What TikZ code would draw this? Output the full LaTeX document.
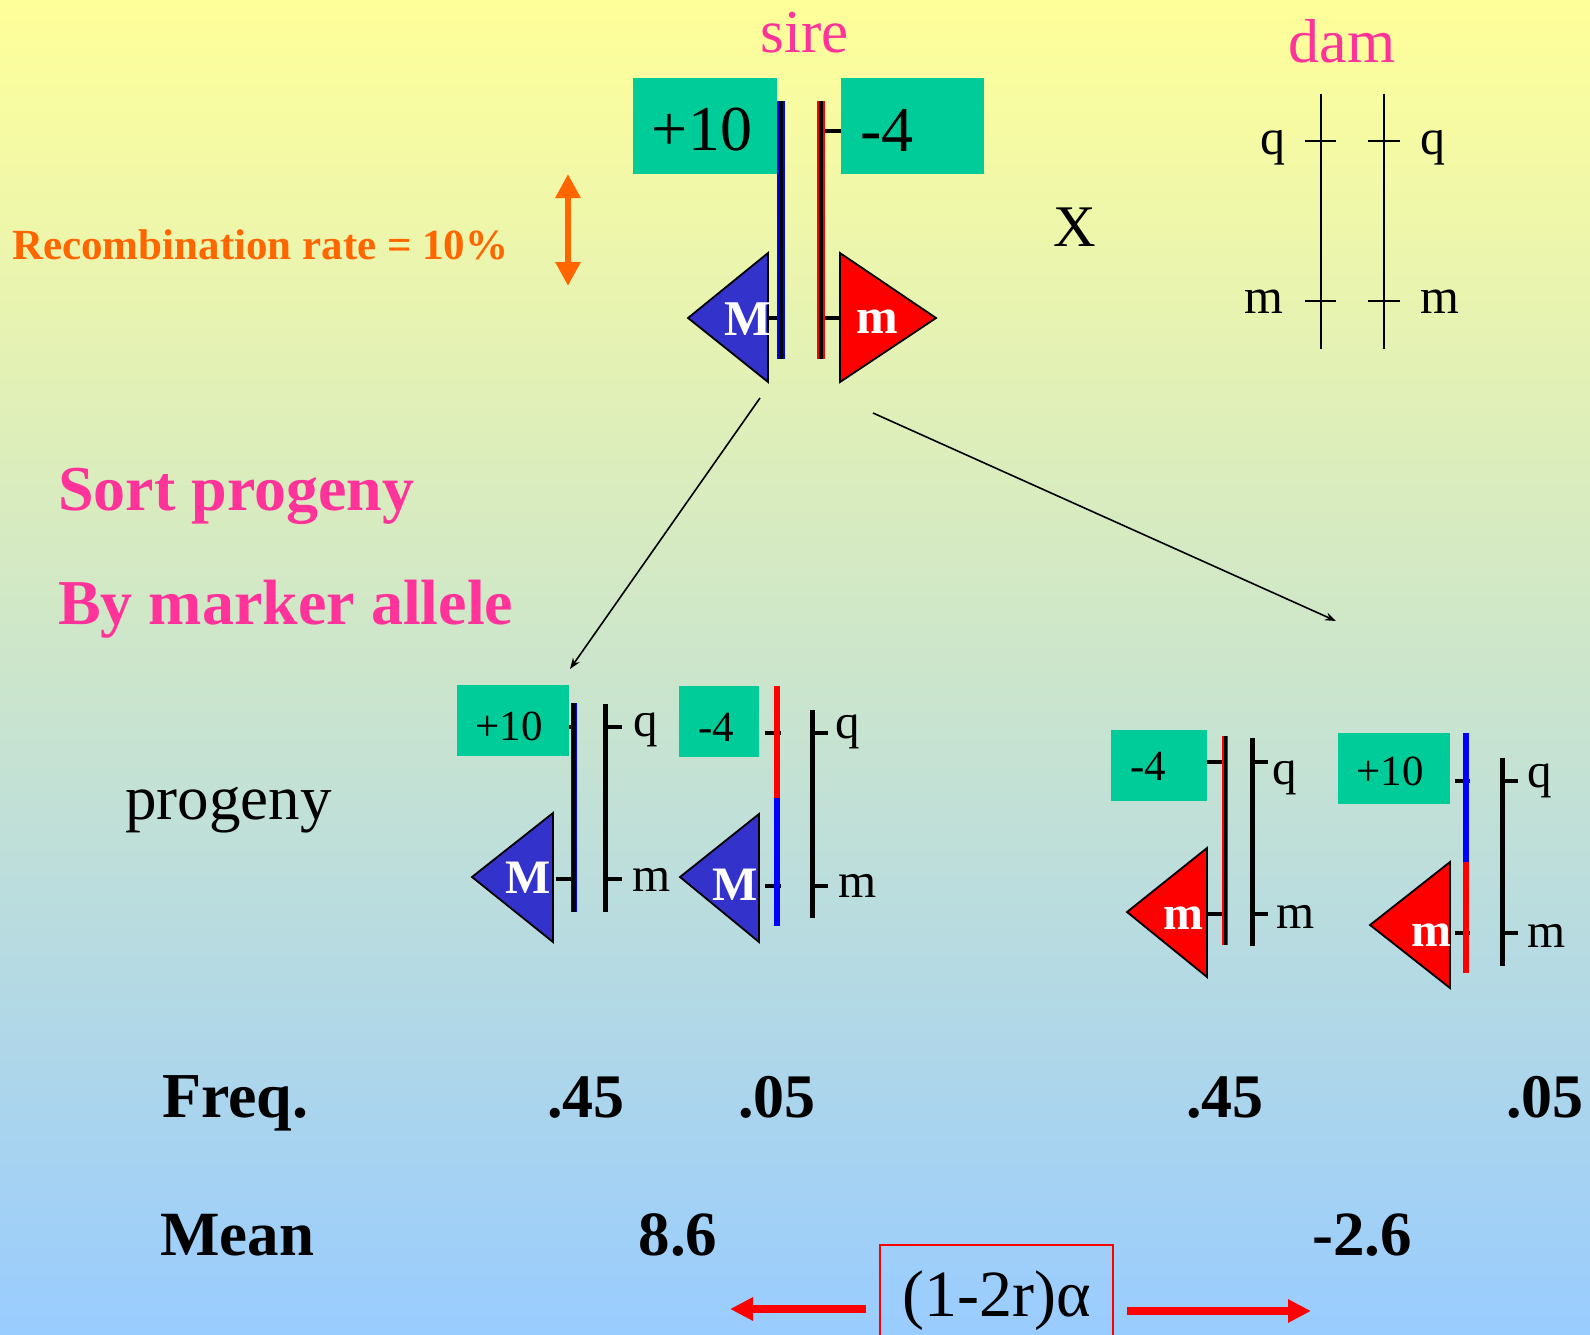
\documentclass[tikz,border=0pt]{standalone}
\usepackage{fontspec}
\setmainfont{Liberation Serif}
\usetikzlibrary{arrows.meta,calc}
\definecolor{bgtop}{RGB}{255,255,153}
\definecolor{bgbot}{RGB}{153,204,255}
\definecolor{gboxc}{RGB}{0,204,153}
\definecolor{mblue}{RGB}{51,51,204}
\definecolor{pinkc}{RGB}{255,51,153}
\definecolor{orng}{RGB}{255,102,0}
\tikzset{
  txt/.style={inner sep=0pt, font=\fontsize{#1}{#1}\selectfont},
  btxt/.style={inner sep=0pt, font=\fontsize{#1}{#1}\selectfont\bfseries},
  allele/.style={inner sep=0pt, text=white, font=\fontsize{#1}{#1}\selectfont\bfseries},
  greenbox/.style={fill=gboxc, draw=none, inner sep=0pt},
  chrom/.style={line width=5pt, black},
  tickmark/.style={line width=4pt, black},
  damline/.style={line width=2.5pt, black},
  outl/.style={line width=7.5pt},
  core/.style={line width=3.5pt, black},
  recomb/.style={line width=6pt},
  tri/.style={draw=black, line width=1.8pt, line join=miter},
  thinarrow/.style={line width=1.6pt, -{Stealth[length=11pt,width=8pt]}},
}
\begin{document}
\begin{tikzpicture}[x=1pt,y=-1pt]
\useasboundingbox (0,0) rectangle (1590,1335);
\shade[top color=bgtop, bottom color=bgbot] (0,0) rectangle (1590,1335);
\clip (0,0) rectangle (1590,1335);

% ---------------- sire ----------------
\node[txt=61, text=pinkc, anchor=base] (sire) at (805,53) {sire};
\draw[tickmark] (765,131) -- (781,131);
\draw[tickmark] (821,131) -- (841,131);
\draw[tickmark] (762,318) -- (781,318);
\draw[tickmark] (821,318) -- (841,318);
\draw[outl, blue] (781,101) -- (781,359);
\draw[core] (781,101) -- (781,359);
\draw[outl, red] (821,101) -- (821,359);
\draw[core] (821,101) -- (821,359);
\node[greenbox, minimum width=144pt, minimum height=96pt] (sqA) at (705,126) {};
\node[greenbox, minimum width=143pt, minimum height=96pt] (sqB) at (912.5,126) {};
\node[txt=64] (sqAt) at (702,130) {+10};
\node[txt=64] (sqBt) at (887,130) {-4};
\filldraw[tri, fill=mblue] (688,318) -- (768,253) -- (768,382) -- cycle;
\filldraw[tri, fill=red] (936,318) -- (840,253) -- (840,382) -- cycle;
\node[allele=50] (sM) at (748,319) {M};
\node[allele=50] (sm) at (877,322) {m};

% ---------------- dam ----------------
\node[txt=62, text=pinkc, anchor=base] (dam) at (1342,63) {dam};
\draw[damline] (1321,94) -- (1321,349);
\draw[damline] (1384,94) -- (1384,349);
\draw[damline] (1305,141) -- (1336,141);
\draw[damline] (1305,301) -- (1336,301);
\draw[damline] (1368,141) -- (1400,141);
\draw[damline] (1368,301) -- (1400,301);
\node[txt=50, anchor=east] (dq1) at (1286,148) {q};
\node[txt=50, anchor=east] (dm1) at (1284,302) {m};
\node[txt=50, anchor=west] (dq2) at (1420,148) {q};
\node[txt=50, anchor=west] (dm2) at (1420,302) {m};

\node[txt=59, anchor=base] (cross) at (1075,246) {X};

% ---------------- recombination ----------------
\node[btxt=43, text=orng, anchor=base west] (rec) at (12,259) {Recombination rate = 10\%};
\coordinate (ra) at (568,174);
\coordinate (rb) at (568,286);
\draw[orng, line width=6pt, {Triangle[length=24pt,width=24pt]}-{Triangle[length=24pt,width=24pt]}] (ra) -- (rb);

% ---------------- sort text ----------------
\node[btxt=64, text=pinkc, anchor=base west] (sort1) at (58,510) {Sort progeny};
\node[btxt=64, text=pinkc, anchor=base west] (sort2) at (58,624) {By marker allele};
\node[txt=63, anchor=base west] (prog) at (125,819) {progeny};

% ---------------- arrows from sire ----------------
\coordinate (s1) at (760,398);
\coordinate (p1) at (570,669);
\coordinate (s2) at (873,413);
\coordinate (p2) at (1336,621);
\draw[thinarrow] (s1) -- (p1);
\draw[thinarrow] (s2) -- (p2);

% ---------------- progeny 1 ----------------
\draw[tickmark] (562,727) -- (574,727);
\draw[tickmark] (556,879) -- (574,879);
\draw[outl, blue, line width=6pt] (574,703) -- (574,912);
\draw[core, line width=3.5pt] (574,703) -- (574,912);
\draw[chrom] (605,704) -- (605,912);
\draw[tickmark] (605,727) -- (622,727);
\draw[tickmark] (605,879) -- (622,879);
\node[greenbox, minimum width=112pt, minimum height=71pt] (g1) at (513,720.5) {};
\node[txt=43] (g1t) at (509,726) {+10};
\filldraw[tri, fill=mblue] (472,877) -- (553,813) -- (553,942) -- cycle;
\node[allele=48] (g1M) at (528,878) {M};
\node[txt=49, anchor=west] (g1q) at (633,730) {q};
\node[txt=49, anchor=west] (g1m) at (632,880) {m};

% ---------------- progeny 2 ----------------
\draw[tickmark] (765,733) -- (781,733);
\draw[tickmark] (765,886) -- (781,886);
\draw[recomb, red] (777,686) -- (777,798);
\draw[recomb, blue] (777,798) -- (777,926);
\draw[chrom] (812,710) -- (812,918);
\draw[tickmark] (812,733) -- (828,733);
\draw[tickmark] (812,886) -- (828,886);
\node[greenbox, minimum width=80pt, minimum height=71pt] (g2) at (719,721.5) {};
\node[txt=43] (g2t) at (716,727) {-4};
\filldraw[tri, fill=mblue] (680,877) -- (759,814) -- (759,942) -- cycle;
\node[allele=48] (g2M) at (735,885) {M};
\node[txt=49, anchor=west] (g2q) at (835,732) {q};
\node[txt=49, anchor=west] (g2m) at (838,886) {m};

% ---------------- progeny 3 ----------------
\draw[tickmark] (1207,762) -- (1225,762);
\draw[tickmark] (1204,914) -- (1225,914);
\draw[outl, red, line width=5.5pt] (1225,736) -- (1225,945);
\draw[core, line width=3pt] (1225,736) -- (1225,945);
\draw[chrom] (1252,738) -- (1252,946);
\draw[tickmark] (1252,762) -- (1268,762);
\draw[tickmark] (1252,914) -- (1268,914);
\node[greenbox, minimum width=96pt, minimum height=71pt] (g3) at (1159,765.5) {};
\node[txt=43] (g3t) at (1148,766) {-4};
\filldraw[tri, fill=red] (1127,912) -- (1207,848) -- (1207,977) -- cycle;
\node[allele=48] (g3m) at (1183,918) {m};
\node[txt=49, anchor=west] (g3q) at (1272,778) {q};
\node[txt=49, anchor=west] (g3mm) at (1276,917) {m};

% ---------------- progeny 4 ----------------
\draw[tickmark] (1455,781) -- (1470,781);
\draw[tickmark] (1455,933) -- (1470,933);
\draw[recomb, blue] (1466,733) -- (1466,862);
\draw[recomb, red] (1466,862) -- (1466,973);
\draw[chrom] (1502,758) -- (1502,966);
\draw[tickmark] (1502,781) -- (1518,781);
\draw[tickmark] (1502,933) -- (1518,933);
\node[greenbox, minimum width=112pt, minimum height=71pt] (g4) at (1394,768.5) {};
\node[txt=43] (g4t) at (1390,771) {+10};
\filldraw[tri, fill=red] (1370,925) -- (1450,862) -- (1450,988) -- cycle;
\node[allele=48] (g4m) at (1431,935) {m};
\node[txt=49, anchor=west] (g4q) at (1527,781) {q};
\node[txt=49, anchor=west] (g4mm) at (1527,936) {m};

% ---------------- frequencies & means ----------------
\node[btxt=64, anchor=base west] (freq) at (162,1117) {Freq.};
\node[btxt=62, anchor=base] (f1) at (586,1117) {.45};
\node[btxt=62, anchor=base] (f2) at (777,1117) {.05};
\node[btxt=62, anchor=base] (f3) at (1225,1117) {.45};
\node[btxt=62, anchor=base] (f4) at (1545,1117) {.05};
\node[btxt=63, anchor=base west] (mean) at (160,1255) {Mean};
\node[btxt=63, anchor=base] (m1) at (678,1255) {8.6};
\node[btxt=63, anchor=base] (m2) at (1362,1255) {-2.6};

% ---------------- (1-2r)alpha ----------------
\node[draw=red, line width=1.5pt, minimum width=233pt, minimum height=112pt, inner sep=0pt, txt=66] (alpha) at (996.5,1301) {(1-2r)α};
\coordinate (la) at (730,1309);
\coordinate (rta) at (1311,1311);
\draw[red, line width=8pt, -{Triangle[length=23pt,width=22pt]}] ($(alpha.west)+(-13,8)$) -- (la);
\draw[red, line width=8pt, -{Triangle[length=23pt,width=22pt]}] ($(alpha.east)+(13,10)$) -- (rta);
\end{tikzpicture}
\end{document}
